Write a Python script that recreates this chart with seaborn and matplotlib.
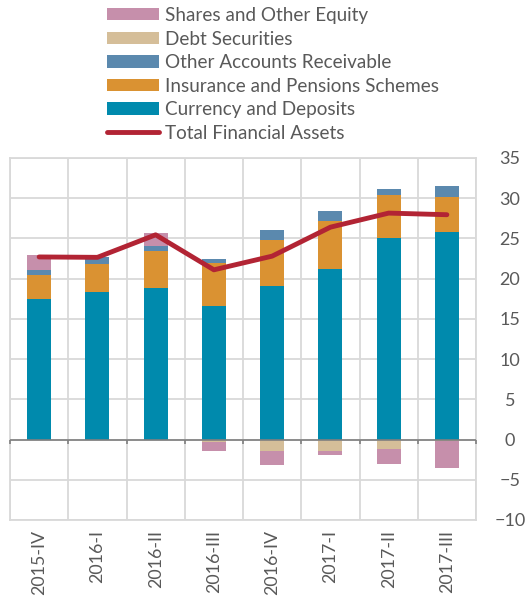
import matplotlib
matplotlib.use("Agg")
import matplotlib.pyplot as plt
import seaborn as sns
import numpy as np
import pandas as pd
from matplotlib.patches import Patch
from matplotlib.lines import Line2D

quarters = ["2015-IV", "2016-I", "2016-II", "2016-III", "2016-IV", "2017-I", "2017-II", "2017-III"]
currency = [17.5, 18.4, 18.8, 16.55, 19.05, 21.15, 25.05, 25.8]
insurance = [2.95, 3.4, 4.6, 5.35, 5.7, 6.05, 5.3, 4.4]
other_receivable = [0.65, 0.9, 0.6, 0.55, 1.25, 1.15, 0.85, 1.3]
debt_securities = [-0.1, 0.0, -0.1, -0.3, -1.45, -1.4, -1.2, -0.15]
shares_equity = [1.8, 0.0, 1.7, -1.15, -1.75, -0.55, -1.9, -3.4]
total_assets = [22.7, 22.65, 25.45, 21.1, 22.8, 26.4, 28.15, 27.95]

colors = {
    "Shares and Other Equity": "#C68FAB",
    "Debt Securities": "#D5BE99",
    "Other Accounts Receivable": "#5B89AE",
    "Insurance and Pensions Schemes": "#DA9232",
    "Currency and Deposits": "#008AAD",
}
line_color = "#B22434"
text_color = "#595959"
grid_color = "#D9D9D9"

sns.set_style("white")
plt.rcParams["font.family"] = ["Lato", "DejaVu Sans"]

fig = plt.figure(figsize=(5.27, 6.0), dpi=100)
ax = fig.add_axes([10 / 527, 80 / 600, 466 / 527, 362 / 600])

series = [
    ("Currency and Deposits", currency),
    ("Insurance and Pensions Schemes", insurance),
    ("Other Accounts Receivable", other_receivable),
    ("Debt Securities", debt_securities),
    ("Shares and Other Equity", shares_equity),
]

pos_base = np.zeros(len(quarters))
neg_base = np.zeros(len(quarters))
for name, vals in series:
    v = np.array(vals, dtype=float)
    bottoms = np.where(v >= 0, pos_base, neg_base)
    df = pd.DataFrame({"q": quarters, "v": v})
    sns.barplot(data=df, x="q", y="v", order=quarters, color=colors[name],
                saturation=1, width=0.41, bottom=bottoms, ax=ax, zorder=3,
                linewidth=0)
    pos_base = pos_base + np.where(v >= 0, v, 0)
    neg_base = neg_base + np.where(v < 0, v, 0)

ldf = pd.DataFrame({"q": quarters, "t": total_assets})
sns.lineplot(data=ldf, x="q", y="t", sort=False, color=line_color, linewidth=3.5,
             ax=ax, zorder=5, solid_capstyle="round")

ax.set_xlim(-0.5, len(quarters) - 0.5)
ax.set_ylim(-10, 35)
ax.set_yticks(range(-10, 36, 5))
ax.yaxis.tick_right()
ax.set_xlabel("")
ax.set_ylabel("")

# grid
ax.set_xticks(np.arange(-0.5, len(quarters), 1.0), minor=True)
ax.grid(True, which="minor", axis="x", color=grid_color, linewidth=1.3, zorder=0)
ax.grid(True, which="major", axis="y", color=grid_color, linewidth=1.3, zorder=0)
ax.grid(False, which="major", axis="x")
for s in ax.spines.values():
    s.set_color(grid_color)
    s.set_linewidth(1.3)

ax.axhline(0, color="#7F7F7F", linewidth=1.2, zorder=4)
ax.vlines(np.arange(-0.5, len(quarters), 1.0), -0.5, 0, color="#7F7F7F",
          linewidth=1.2, zorder=4, clip_on=False)

ax.tick_params(axis="x", which="both", length=0, labelsize=12.8, labelcolor=text_color,
               rotation=90, pad=7)
ax.tick_params(axis="y", length=0, labelsize=13, labelcolor=text_color, pad=24.5)
for lbl in ax.get_yticklabels():
    lbl.set_horizontalalignment("center")

handles = [Patch(facecolor=colors[n], edgecolor="none") for n in
           ["Shares and Other Equity", "Debt Securities", "Other Accounts Receivable",
            "Insurance and Pensions Schemes", "Currency and Deposits"]]
handles.append(Line2D([0], [0], color=line_color, linewidth=3.5, solid_capstyle="round"))
labels = ["Shares and Other Equity", "Debt Securities", "Other Accounts Receivable",
          "Insurance and Pensions Schemes", "Currency and Deposits", "Total Financial Assets"]
leg = fig.legend(handles, labels, loc="upper left", bbox_to_anchor=(107 / 527, 1 - 7 / 600),
                 frameon=False, fontsize=13.6, handlelength=2.75, handleheight=0.62,
                 labelspacing=0.345, handletextpad=0.3, borderpad=0, borderaxespad=0)
for t in leg.get_texts():
    t.set_color(text_color)

fig.savefig("out.png", dpi=100)
